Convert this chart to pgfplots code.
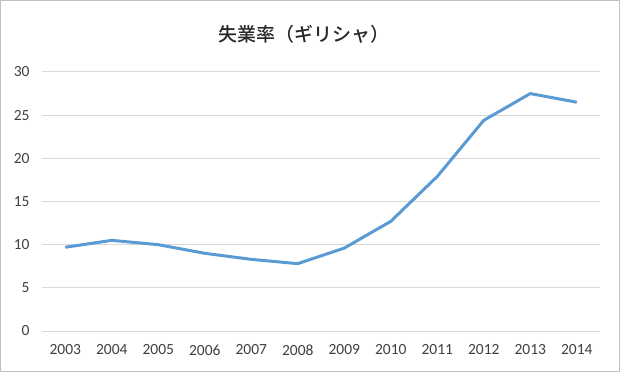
\documentclass[border=0pt]{standalone}
\usepackage{pgfplots}
\pgfplotsset{compat=1.18}
\usepackage{fontspec}
\setmainfont{Carlito}
\newfontfamily\cjk{Noto Sans CJK JP}[UprightFont={* Medium}]
\definecolor{lineblue}{HTML}{5B9BD5}
\definecolor{gridgray}{HTML}{D9D9D9}
\definecolor{framegray}{HTML}{BFBFBF}
\definecolor{ticktext}{HTML}{404040}
\begin{document}
\begin{tikzpicture}[x=1pt,y=1pt]
\begin{axis}[
  scale only axis,
  width=558pt, height=259pt,
  xmin=-0.5, xmax=11.5,
  ymin=0, ymax=30,
  ytick={0,5,...,30},
  xtick={0,...,11},
  xticklabels={2003,2004,2005,2006,2007,2008,2009,2010,2011,2012,2013,2014},
  axis line style={draw=none},
  major tick length=0pt,
  ymajorgrids,
  grid style={gridgray, line width=1pt},
  tick label style={font=\fontsize{15.5}{17}\selectfont, text=ticktext},
  /pgf/number format/assume math mode=true,
  yticklabel style={xshift=-9pt},
  xticklabel style={yshift=-10pt},
  clip=false,
]
\addplot[lineblue, line width=3pt, line join=round] coordinates {
(0,9.7) (1,10.5) (2,10.0) (3,9.0) (4,8.3) (5,7.8) (6,9.6) (7,12.7) (8,17.9) (9,24.4) (10,27.5) (11,26.5)
};
\coordinate (O) at (rel axis cs:0,0);
\end{axis}
\draw[framegray, line width=1pt] ([shift={(-41.5pt,-40.5pt)}]O) rectangle ++(619pt,371pt);
\node[font=\cjk\fontsize{19}{22}\selectfont, text=black!85] at ([shift={(262pt,297pt)}]O) {失業率（ギリシャ）};
\end{tikzpicture}
\end{document}
